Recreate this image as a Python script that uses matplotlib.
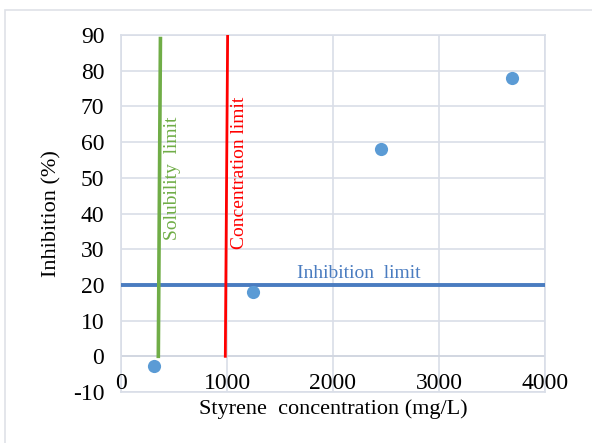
import matplotlib
matplotlib.use("Agg")
import matplotlib.pyplot as plt
import matplotlib.patches as mpatches

plt.rcParams.update({
    'font.family': ['Liberation Serif', 'DejaVu Serif'],
    'font.size': 14,
    'axes.unicode_minus': False,
})

# data
conc = [310, 1245, 2453, 3689]
inhibition = [-2.8, 18, 58, 78]

solubility_x = [352, 372]
solubility_y = [0, 89]
concentration_x = [984, 1006]
concentration_y = [0, 90]
inhibition_limit = 20

x_ticks = [0, 1000, 2000, 3000, 4000]
y_ticks = [-10, 0, 10, 20, 30, 40, 50, 60, 70, 80, 90]

BLUE = "#4a7cc0"
GREEN = "#70ad47"
RED = "#ff0000"
MARKER = "#5b9bd5"
GRID = "#d9dee8"

fig = plt.figure(figsize=(5.92, 4.43), dpi=100)
ax = fig.add_axes([0.2044, 0.1151, 0.7162, 0.8059])

# outer chart border
fig.patches.append(mpatches.Rectangle((5 / 592, -0.1), 1.1, 1 - 10 / 443 + 0.1,
                                      transform=fig.transFigure, fill=False,
                                      edgecolor="#dfe2e8", linewidth=1.2))

ax.set_xlim(0, 4000)
ax.set_ylim(-10, 90)
ax.set_yticks(y_ticks)
ax.set_xticks(x_ticks)
ax.set_xticklabels([])
ax.tick_params(length=0, labelsize=17, pad=12)
ax.grid(True, color=GRID, linewidth=1.2)
ax.set_axisbelow(True)
for s in ax.spines.values():
    s.set_color(GRID)
    s.set_linewidth(1.2)
ax.axhline(0, color="#d0d5df", linewidth=1.2, zorder=1)

# x tick labels sit just under the y=0 line (Excel style)
for t in x_ticks:
    ax.text(t, -7.5, str(t), ha='center', va='center', fontsize=17)

ax.axhline(inhibition_limit, color=BLUE, linewidth=2.8, zorder=3)
ax.plot(solubility_x, solubility_y, color=GREEN, linewidth=2.6, zorder=3)
ax.plot(concentration_x, concentration_y, color=RED, linewidth=2.0, zorder=3)
ax.scatter(conc, inhibition, s=90, color=MARKER, zorder=4, linewidth=0)

ax.text(490, 50, "Solubility  limit", color=GREEN, rotation=90,
        ha='center', va='center', fontsize=14)
ax.text(1120, 51.5, "Concentration limit", color=RED, rotation=90,
        ha='center', va='center', fontsize=14)
ax.text(2245, 23.3, "Inhibition  limit", color=BLUE,
        ha='center', va='center', fontsize=14)

ax.set_xlabel("Styrene  concentration (mg/L)", fontsize=16, va='center')
ax.xaxis.set_label_coords(0.5, -0.048)
ax.set_ylabel("Inhibition (%)", fontsize=16, labelpad=8)

fig.savefig("out.png", dpi=100)
